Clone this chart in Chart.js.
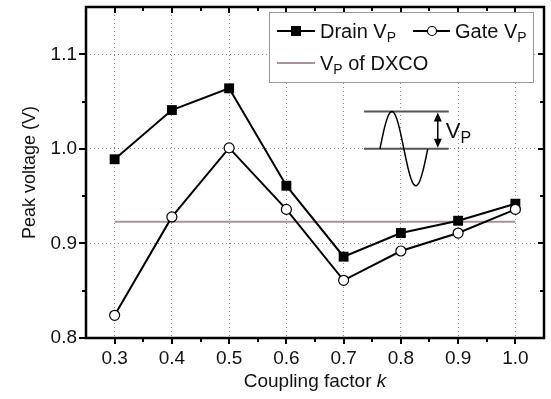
<!DOCTYPE html>
<html>
<head>
<meta charset="utf-8">
<script src="https://cdn.jsdelivr.net/npm/chart.js@4.4.1/dist/chart.umd.min.js"></script>
<style>
    html, body { margin: 0; padding: 0; background: #ffffff; }
    #wrap { width: 551px; height: 399px; }
</style>
</head>
<body>
<div id="wrap"><canvas id="peakVoltageChart" width="551" height="399"></canvas></div>
<script>
// Datos
const couplingK = [0.3, 0.4, 0.5, 0.6, 0.7, 0.8, 0.9, 1.0];
const drainVp = [0.989, 1.041, 1.064, 0.961, 0.886, 0.911, 0.924, 0.942];
const gateVp = [0.824, 0.928, 1.001, 0.936, 0.861, 0.892, 0.911, 0.936];
const dxcoK = [0.3, 1.0];
const dxcoVp = [0.923, 0.923];

const xTicks = [0.3, 0.4, 0.5, 0.6, 0.7, 0.8, 0.9, 1.0];
const xMinorTicks = [0.35, 0.45, 0.55, 0.65, 0.75, 0.85, 0.95];
const yTicks = [0.8, 0.9, 1.0, 1.1];
const yMinorTicks = [0.85, 0.95, 1.05];

const FONT = "'Liberation Sans', Arial, Helvetica, sans-serif";

function toPoints(xs, ys) {
    return xs.map((v, i) => ({ x: v, y: ys[i] }));
}

// texto con subíndice (V_P)
function drawSubText(ctx, x, y, main, sub, rest, size) {
    ctx.font = size + "px " + FONT;
    ctx.fillText(main, x, y);
    x += ctx.measureText(main).width;
    const subSize = Math.round(size * 0.72);
    ctx.font = subSize + "px " + FONT;
    ctx.fillText(sub, x, y + size * 0.2);
    x += ctx.measureText(sub).width;
    if (rest) {
        ctx.font = size + "px " + FONT;
        ctx.fillText(rest, x, y);
    }
}

// Marco, marcas de ejes y títulos
const framePlugin = {
    id: "frame",
    afterDraw(chart) {
        const { ctx, chartArea: a, scales } = chart;
        const xs = scales.x;
        const ys = scales.y;
        ctx.save();
        ctx.strokeStyle = "#000";
        ctx.lineWidth = 2;
        ctx.beginPath();
        xTicks.forEach((v) => {
            const px = Math.round(xs.getPixelForValue(v));
            ctx.moveTo(px, a.bottom); ctx.lineTo(px, a.bottom + 6);
            ctx.moveTo(px, a.top); ctx.lineTo(px, a.top + 6);
        });
        xMinorTicks.forEach((v) => {
            const px = Math.round(xs.getPixelForValue(v));
            ctx.moveTo(px, a.bottom); ctx.lineTo(px, a.bottom + 4);
            ctx.moveTo(px, a.top); ctx.lineTo(px, a.top + 4);
        });
        yTicks.forEach((v) => {
            const py = Math.round(ys.getPixelForValue(v));
            ctx.moveTo(a.left - 7, py); ctx.lineTo(a.left, py);
            ctx.moveTo(a.right, py); ctx.lineTo(a.right - 6, py);
        });
        yMinorTicks.forEach((v) => {
            const py = Math.round(ys.getPixelForValue(v));
            ctx.moveTo(a.left - 4, py); ctx.lineTo(a.left, py);
            ctx.moveTo(a.right, py); ctx.lineTo(a.right - 4, py);
        });
        ctx.stroke();

        ctx.lineWidth = 2.5;
        ctx.strokeRect(a.left, a.top, a.right - a.left, a.bottom - a.top);

        // títulos de ejes
        ctx.fillStyle = "#111";
        ctx.textBaseline = "middle";
        const t1 = "Coupling factor ";
        ctx.font = "19px " + FONT;
        const w1 = ctx.measureText(t1).width;
        ctx.font = "italic 19px " + FONT;
        const w2 = ctx.measureText("k").width;
        let tx = (a.left + a.right) / 2 - (w1 + w2) / 2;
        ctx.textAlign = "left";
        ctx.font = "19px " + FONT;
        ctx.fillText(t1, tx, 382);
        ctx.font = "italic 19px " + FONT;
        ctx.fillText("k", tx + w1, 382);

        ctx.save();
        ctx.translate(30, (a.top + a.bottom) / 2);
        ctx.rotate(-Math.PI / 2);
        ctx.textAlign = "center";
        ctx.font = "18px " + FONT;
        ctx.fillText("Peak voltage (V)", 0, 0);
        ctx.restore();
        ctx.restore();
    },
};

// Leyenda dentro del área
const legendPlugin = {
    id: "insideLegend",
    afterDraw(chart) {
        const { ctx } = chart;
        ctx.save();
        ctx.fillStyle = "#fff";
        ctx.fillRect(269, 12, 264, 70);
        ctx.strokeStyle = "#999";
        ctx.lineWidth = 1;
        ctx.strokeRect(269.5, 12.5, 264, 70);

        ctx.lineWidth = 2;
        ctx.strokeStyle = "#000";
        ctx.beginPath();
        ctx.moveTo(277, 31); ctx.lineTo(315, 31);
        ctx.moveTo(413, 31); ctx.lineTo(450, 31);
        ctx.stroke();
        ctx.fillStyle = "#000";
        ctx.fillRect(291, 26, 10, 10);
        ctx.beginPath();
        ctx.arc(432, 31, 4.5, 0, Math.PI * 2);
        ctx.fillStyle = "#fff";
        ctx.fill();
        ctx.lineWidth = 1.2;
        ctx.stroke();

        ctx.strokeStyle = "#a8929f";
        ctx.lineWidth = 2;
        ctx.beginPath();
        ctx.moveTo(277, 63); ctx.lineTo(315, 63);
        ctx.stroke();

        ctx.fillStyle = "#111";
        ctx.textBaseline = "alphabetic";
        ctx.textAlign = "left";
        drawSubText(ctx, 320, 38, "Drain V", "P", "", 20);
        drawSubText(ctx, 455, 38, "Gate V", "P", "", 20);
        drawSubText(ctx, 320, 70, "V", "P", " of DXCO", 20);
        ctx.restore();
    },
};

// Esquema de la onda (V_P)
const insetPlugin = {
    id: "waveInset",
    afterDatasetsDraw(chart) {
        const { ctx, scales } = chart;
        const xs = scales.x;
        const ys = scales.y;
        const lx0 = xs.getPixelForValue(0.7355);
        const lx1 = xs.getPixelForValue(0.8836);
        const yTop = ys.getPixelForValue(1.0395);
        const yMid = ys.getPixelForValue(1.0);
        const yBot = ys.getPixelForValue(0.961);
        const wx0 = xs.getPixelForValue(0.7634);
        const wx1 = xs.getPixelForValue(0.847);
        const ax = xs.getPixelForValue(0.8645);
        ctx.save();
        ctx.strokeStyle = "#555";
        ctx.lineWidth = 2;
        ctx.beginPath();
        ctx.moveTo(lx0, yTop); ctx.lineTo(lx1, yTop);
        ctx.moveTo(lx0, yMid); ctx.lineTo(lx1, yMid);
        ctx.stroke();

        ctx.strokeStyle = "#000";
        ctx.lineWidth = 1.5;
        ctx.beginPath();
        const n = 60;
        for (let i = 0; i <= n; i++) {
            const t = i / n;
            const px = wx0 + (wx1 - wx0) * t;
            const s = Math.sin(t * Math.PI * 2);
            const py = s >= 0 ? yMid - s * (yMid - yTop) : yMid - s * (yBot - yMid);
            if (i === 0) ctx.moveTo(px, py); else ctx.lineTo(px, py);
        }
        ctx.stroke();

        // flecha doble
        ctx.lineWidth = 1.5;
        ctx.beginPath();
        ctx.moveTo(ax, yTop + 6); ctx.lineTo(ax, yMid - 6);
        ctx.stroke();
        ctx.fillStyle = "#000";
        ctx.beginPath();
        ctx.moveTo(ax, yTop + 1); ctx.lineTo(ax - 4, yTop + 10); ctx.lineTo(ax + 4, yTop + 10); ctx.closePath();
        ctx.moveTo(ax, yMid - 1); ctx.lineTo(ax - 4, yMid - 10); ctx.lineTo(ax + 4, yMid - 10); ctx.closePath();
        ctx.fill();

        ctx.fillStyle = "#111";
        ctx.textBaseline = "alphabetic";
        ctx.textAlign = "left";
        drawSubText(ctx, ax + 8, (yTop + yMid) / 2 + 8, "V", "P", "", 22);
        ctx.restore();
    },
};

const ctx = document.getElementById("peakVoltageChart").getContext("2d");
const peakChart = new Chart(ctx, {
    type: "line",
    data: {
        datasets: [
            {
                label: "Gate VP",
                data: toPoints(couplingK, gateVp),
                borderColor: "#000",
                borderWidth: 2,
                pointStyle: "circle",
                pointRadius: 5,
                pointBackgroundColor: "#fff",
                pointBorderColor: "#000",
                pointBorderWidth: 1.2,
                tension: 0,
                order: 1,
            },
            {
                label: "Drain VP",
                data: toPoints(couplingK, drainVp),
                borderColor: "#000",
                borderWidth: 2,
                pointStyle: "rect",
                pointRadius: 7,
                pointBackgroundColor: "#000",
                pointBorderColor: "#000",
                pointBorderWidth: 0,
                tension: 0,
                order: 2,
            },
            {
                label: "VP of DXCO",
                data: toPoints(dxcoK, dxcoVp),
                borderColor: "#a8929f",
                borderWidth: 2,
                pointRadius: 0,
                tension: 0,
                order: 3,
            },
        ],
    },
    options: {
        responsive: false,
        animation: false,
        layout: {
            padding: { top: 5, right: 6, left: 0, bottom: 0 },
        },
        plugins: {
            legend: { display: false },
            tooltip: { enabled: false },
        },
        scales: {
            x: {
                type: "linear",
                min: 0.25,
                max: 1.05,
                afterBuildTicks: (scale) => {
                    scale.ticks = xTicks.map((v) => ({ value: v }));
                },
                afterFit: (scale) => {
                    scale.height = 61;
                    scale.paddingLeft = 0;
                    scale.paddingRight = 0;
                },
                ticks: {
                    padding: 9,
                    color: "#111",
                    font: { size: 19, family: FONT },
                    callback: (v) => Number(v).toFixed(1),
                },
                grid: {
                    color: "#8a8a8a",
                    lineWidth: 1,
                    drawTicks: false,
                },
                border: { display: false, dash: [1, 3] },
            },
            y: {
                type: "linear",
                min: 0.8,
                max: 1.15,
                afterBuildTicks: (scale) => {
                    scale.ticks = yTicks.map((v) => ({ value: v }));
                },
                afterFit: (scale) => {
                    scale.width = 86;
                    scale.paddingTop = 0;
                    scale.paddingBottom = 0;
                },
                ticks: {
                    padding: 9,
                    color: "#111",
                    font: { size: 19, family: FONT },
                    callback: (v) => Number(v).toFixed(1),
                },
                grid: {
                    color: "#8a8a8a",
                    lineWidth: 1,
                    drawTicks: false,
                },
                border: { display: false, dash: [1, 3] },
            },
        },
    },
    plugins: [insetPlugin, framePlugin, legendPlugin],
});
</script>
</body>
</html>
